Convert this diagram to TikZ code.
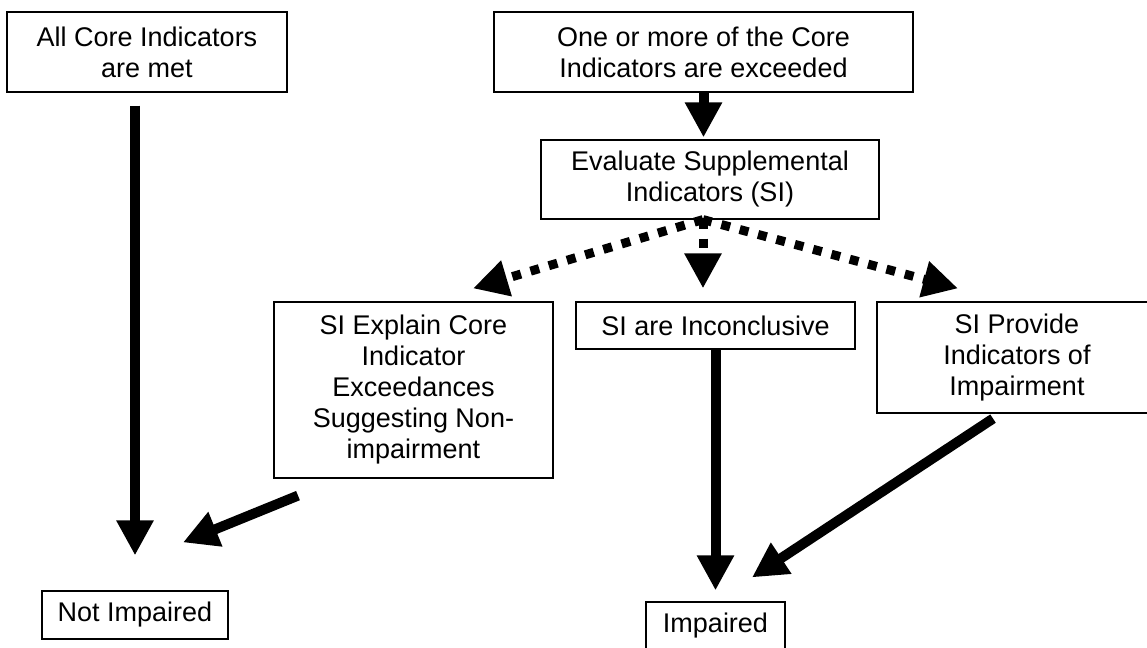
\documentclass[tikz,border=0pt]{standalone}
\usepackage{fontspec}
\setmainfont{Liberation Sans}
\usetikzlibrary{arrows.meta,calc}

\begin{document}
\begin{tikzpicture}[x=0.5pt,y=-0.5pt,
    boite/.style={draw,line width=0.6pt,align=center,inner sep=0pt,font=\fontsize{13.5pt}{15.5pt}\selectfont},
    fleche/.style={line width=5pt,-{Triangle[width=17.5pt,length=17.5pt]}},
    pointille/.style={line width=4.5pt,dash pattern=on 4.5pt off 5pt,-{Triangle[width=17.5pt,length=17.5pt]}}]
    \useasboundingbox (0,0) rectangle (1147,648);

    % Indicateurs de base
    \node[boite,minimum width=140pt,minimum height=40pt] (met) at (147,52) {All Core Indicators\\are met};
    \node[boite,minimum width=209.5pt,minimum height=40pt] (exceeded) at (703.5,52) {One or more of the Core\\Indicators are exceeded};
    \node[boite,minimum width=169pt,minimum height=39.5pt] (evaluate) at (710,179.5) {Evaluate Supplemental\\Indicators (SI)};

    % Les trois issues
    \node[boite,minimum width=139.5pt,minimum height=88pt] (explain) at (413.5,390) {SI Explain Core\\Indicator\\Exceedances\\Suggesting Non-\\impairment};
    \node[boite,minimum width=139.5pt,minimum height=23.5pt] (inconclusive) at (715.5,325.5) {SI are Inconclusive};
    \node[boite,minimum width=140pt,minimum height=55.5pt] (provide) at (1017,357.5) {SI Provide\\Indicators of\\Impairment};

    % Conclusions
    \node[boite,minimum width=93pt,minimum height=24pt] (notimp) at (135,615) {Not Impaired};
    \node[boite,minimum width=69.5pt,minimum height=24pt] (imp) at (715.5,626) {Impaired};

    \draw[fleche] ($(notimp.north |- met.south)+(0,13)$) -- ($(notimp.north)+(0,-35)$);
    \draw[fleche] (exceeded.south) -- ($(exceeded.south |- evaluate.north)+(0,-2)$);

    % Fleches en pointille
    \draw[pointille] ($(evaluate.south)+(-7,0)$) -- ($(explain.north)+(59.5,-13)$);
    \draw[pointille] ($(evaluate.south)+(-7,0)$) -- ($(inconclusive.north)+(-12.5,-13)$);
    \draw[pointille] ($(evaluate.south)+(-7,0)$) -- ($(provide.north)+(-59,-13)$);

    \draw[fleche] ($(explain.south)+(-115.5,17)$) -- ($(notimp.north)+(48,-48)$);
    \draw[fleche] (inconclusive.south) -- ($(imp.north)+(0,-11)$);
    \draw[fleche] ($(provide.south)+(-24,5)$) -- ($(imp.north)+(36.5,-24)$);
\end{tikzpicture}
\end{document}
